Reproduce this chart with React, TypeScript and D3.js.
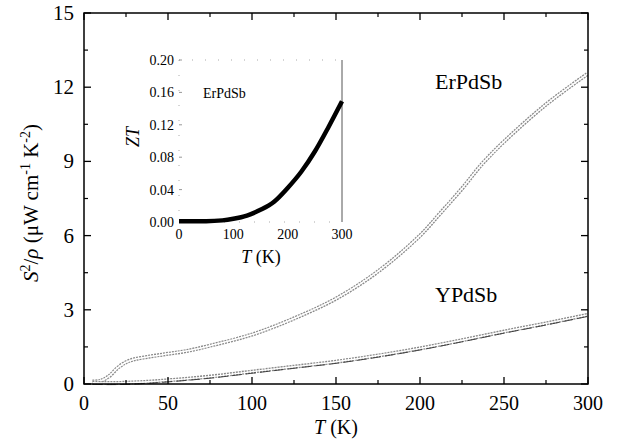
import React from "react";
import * as d3 from "d3";

const erT = [5, 10, 15, 20, 25, 30, 40, 50, 60, 75, 100, 125, 150, 175, 200, 212, 225, 237, 250, 275, 300];
const erV = [0.1, 0.13, 0.32, 0.65, 0.88, 1.0, 1.12, 1.22, 1.32, 1.55, 2.0, 2.65, 3.45, 4.55, 6.0, 6.9, 7.9, 8.9, 9.8, 11.3, 12.55];
const yT = [5, 15, 25, 40, 50, 75, 100, 125, 150, 175, 200, 225, 250, 275, 300];
const yV = [0.05, 0.04, 0.05, 0.1, 0.15, 0.3, 0.5, 0.7, 0.9, 1.15, 1.44, 1.77, 2.12, 2.45, 2.8];
const ztT = [0, 50, 80, 100, 125, 150, 175, 200, 225, 250, 275, 300];
const ztV = [0.001, 0.001, 0.002, 0.004, 0.008, 0.015, 0.025, 0.042, 0.062, 0.087, 0.117, 0.149];
const xTicks = [0, 50, 100, 150, 200, 250, 300];
const yTicks = [0, 3, 6, 9, 12, 15];
const insetXTicks = [0, 100, 200, 300];
const insetYTicks = [0, 0.04, 0.08, 0.12, 0.16, 0.2];

const FONT = "Tinos";

export default function App() {
  const x = d3.scaleLinear().domain([0, 300]).range([84, 588]);
  const y = d3.scaleLinear().domain([0, 15]).range([384, 13]);
  const ix = d3.scaleLinear().domain([0, 300]).range([179, 342]);
  const iy = d3.scaleLinear().domain([0, 0.2]).range([222, 60]);

  const line = d3.line<number>().x((d, i) => x(erT[i])).y((d) => y(d)).curve(d3.curveCatmullRom.alpha(0.5));
  const lineY = d3.line<number>().x((d, i) => x(yT[i])).y((d) => y(d)).curve(d3.curveMonotoneX);
  const lineZ = d3.line<number>().x((d, i) => ix(ztT[i])).y((d) => iy(d)).curve(d3.curveMonotoneX);

  const minorX = d3.range(25, 300, 50);
  const minorY = d3.range(1.5, 15, 3);

  return (
    <svg width={624} height={443} style={{ position: "absolute", left: 0, top: 0, background: "#fff" }}>
      <path d={line(erV) || ""} fill="none" stroke="#8a8a8a" strokeWidth={4} strokeDasharray="2 1" />
      <path d={line(erV) || ""} fill="none" stroke="#fff" strokeWidth={1.5} />
      <path d={lineY(yV) || ""} fill="none" stroke="#8a8a8a" strokeWidth={4} strokeDasharray="2 1" />
      <path d={lineY(yV) || ""} fill="none" stroke="#fff" strokeWidth={1.4} />
      <path d={lineY(yV) || ""} fill="none" stroke="#333" strokeWidth={0.9} transform="translate(0,1.6)" strokeDasharray="10 4" />

      <rect x={84} y={13} width={504} height={371} fill="none" stroke="#000" strokeWidth={1.5} />
      {xTicks.map((t) => (
        <g key={"xt" + t}>
          <line x1={x(t)} x2={x(t)} y1={384} y2={377} stroke="#000" strokeWidth={1.3} />
          <line x1={x(t)} x2={x(t)} y1={13} y2={20} stroke="#000" strokeWidth={1.3} />
          <text x={x(t)} y={410} fontSize={20} fontFamily={FONT} textAnchor="middle">{t}</text>
        </g>
      ))}
      {minorX.map((t) => (
        <g key={"mx" + t}>
          <line x1={x(t)} x2={x(t)} y1={384} y2={380} stroke="#000" strokeWidth={1.2} />
          <line x1={x(t)} x2={x(t)} y1={13} y2={17} stroke="#000" strokeWidth={1.2} />
        </g>
      ))}
      {yTicks.map((t) => (
        <g key={"yt" + t}>
          <line x1={84} x2={91} y1={y(t)} y2={y(t)} stroke="#000" strokeWidth={1.3} />
          <line x1={588} x2={581} y1={y(t)} y2={y(t)} stroke="#000" strokeWidth={1.3} />
          <text x={74} y={y(t) + 7} fontSize={21} fontFamily={FONT} textAnchor="end">{t}</text>
        </g>
      ))}
      {minorY.map((t) => (
        <g key={"my" + t}>
          <line x1={84} x2={88} y1={y(t)} y2={y(t)} stroke="#000" strokeWidth={1.2} />
          <line x1={588} x2={584} y1={y(t)} y2={y(t)} stroke="#000" strokeWidth={1.2} />
        </g>
      ))}
      <text x={336} y={434} fontSize={20} fontFamily={FONT} textAnchor="middle">
        <tspan fontStyle="italic">T</tspan> (K)
      </text>
      <text transform="translate(38,203) rotate(-90)" fontSize={21} fontFamily={FONT} textAnchor="middle">
        <tspan fontStyle="italic">S</tspan>
        <tspan fontSize={14} dy={-8}>2</tspan>
        <tspan dy={8}>/</tspan>
        <tspan fontStyle="italic">ρ</tspan>
        <tspan> (μW cm</tspan>
        <tspan fontSize={14} dy={-8}>-1</tspan>
        <tspan dy={8}> K</tspan>
        <tspan fontSize={14} dy={-8}>-2</tspan>
        <tspan dy={8}>)</tspan>
      </text>
      <text x={435} y={89} fontSize={22} fontFamily={FONT}>ErPdSb</text>
      <text x={435} y={302} fontSize={22} fontFamily={FONT}>YPdSb</text>

      <line x1={179} x2={342} y1={60} y2={60} stroke="#aaa" strokeWidth={1} strokeDasharray="1 12" />
      <line x1={179} x2={179} y1={60} y2={222} stroke="#aaa" strokeWidth={1} strokeDasharray="1 14" />
      <line x1={179} x2={342} y1={222} y2={222} stroke="#aaa" strokeWidth={1} strokeDasharray="1 14" />
      <line x1={342} x2={342} y1={60} y2={222} stroke="#555" strokeWidth={1} />
      {insetYTicks.map((t) => (
        <g key={"iy" + t}>
          <line x1={179} x2={182} y1={iy(t)} y2={iy(t)} stroke="#999" strokeWidth={1} />
          <text x={174} y={iy(t) + 5} fontSize={14} fontFamily={FONT} textAnchor="end">{t.toFixed(2)}</text>
        </g>
      ))}
      {insetXTicks.map((t) => (
        <text key={"ix" + t} x={ix(t)} y={239} fontSize={14} fontFamily={FONT} textAnchor="middle">{t}</text>
      ))}
      <path d={lineZ(ztV) || ""} fill="none" stroke="#000" strokeWidth={4.5} strokeLinecap="butt" />
      <text x={261} y={263} fontSize={18} fontFamily={FONT} textAnchor="middle">
        <tspan fontStyle="italic">T</tspan> (K)
      </text>
      <text transform="translate(139,137) rotate(-90)" fontSize={18} fontFamily={FONT} textAnchor="middle" fontStyle="italic">ZT</text>
      <text x={203} y={98} fontSize={14} fontFamily={FONT}>ErPdSb</text>
    </svg>
  );
}
